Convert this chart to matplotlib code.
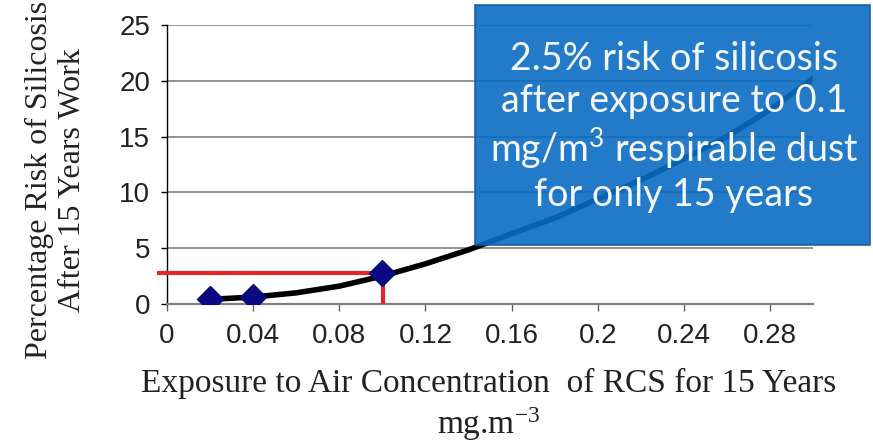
import matplotlib
matplotlib.use("Agg")
import matplotlib.pyplot as plt
from matplotlib.patches import Rectangle

# Data points (diamonds)
point_x = [0.02, 0.04, 0.10]
point_y = [0.45, 0.65, 2.75]

# Trend curve
curve_x = [0.02, 0.04, 0.06, 0.08, 0.10, 0.12, 0.14, 0.16, 0.18, 0.20, 0.22, 0.24, 0.26, 0.28, 0.30]
curve_y = [0.42, 0.62, 1.0, 1.6, 2.5, 3.6, 4.85, 6.3, 7.7, 9.4, 11.1, 13.0, 15.0, 17.4, 20.2]

# Reference marker (0.1 mg/m3 -> ~2.5 %)
ref_x = 0.10
ref_y = 2.75

x_ticks = [0, 0.04, 0.08, 0.12, 0.16, 0.2, 0.24, 0.28]
x_tick_labels = ["0", "0.04", "0.08", "0.12", "0.16", "0.2", "0.24", "0.28"]
y_ticks = [0, 5, 10, 15, 20, 25]

W, H = 873, 446
fig = plt.figure(figsize=(W / 100, H / 100), dpi=100)
ax = fig.add_axes([167 / W, (H - 304) / H, (813 - 167) / W, (304 - 25) / H])

ax.set_xlim(0, 0.30)
ax.set_ylim(0, 25)

for s in ["top", "right"]:
    ax.spines[s].set_visible(False)
ax.spines["left"].set_color("black")
ax.spines["left"].set_linewidth(1.0)
ax.spines["bottom"].set_color("#808080")
ax.spines["bottom"].set_linewidth(1.6)

ax.set_yticks(y_ticks)
ax.set_xticks(x_ticks)
ax.set_xticklabels(x_tick_labels)
ax.yaxis.grid(True, color="#7f7f7f", linewidth=1.2)
ax.set_axisbelow(True)
ax.tick_params(axis="y", direction="out", length=4, width=1, color="black", pad=8,
               labelsize=20, labelcolor="#222222")
ax.tick_params(axis="x", direction="out", length=5, width=1, color="#606060", pad=9,
               labelsize=20, labelcolor="#222222")
for lab in ax.get_xticklabels() + ax.get_yticklabels():
    lab.set_fontfamily("Liberation Sans")

# red reference lines
ax.plot([-0.0045, ref_x], [ref_y, ref_y], color="#e02626", lw=3, clip_on=False, zorder=3,
        solid_capstyle="butt")
ax.plot([ref_x + 0.0005, ref_x + 0.0005], [0, ref_y], color="#e02626", lw=3, zorder=3,
        solid_capstyle="butt")

# curve and points
ax.plot(curve_x, curve_y, color="black", lw=4, zorder=4, solid_capstyle="round")
ax.plot(point_x, point_y, linestyle="none", marker="D", markersize=13,
        color="#0a0a80", zorder=5)

# axis titles
fig.text(489 / W, (H - 383) / H, "Exposure to Air Concentration  of RCS for 15 Years",
         ha="center", va="center", family="Liberation Serif", fontsize=24, color="#222222")
fig.text(489 / W, (H - 424) / H, r"mg.m$\mathregular{^{-3}}$",
         ha="center", va="center", family="Liberation Serif", fontsize=24, color="#222222")
fig.text(56 / W, (H - 180) / H, "Percentage Risk of Silicosis\nAfter 15 Years Work",
         ha="center", va="center", rotation=90, family="Liberation Serif", fontsize=23,
         color="#222222", linespacing=1.15)

# blue callout box
fig.patches.append(Rectangle((475 / W, (H - 245) / H), (870 - 475) / W, (245 - 5) / H,
                             transform=fig.transFigure, facecolor="#0a6cc2",
                             edgecolor="#0d5a9c", linewidth=1.2, alpha=0.9, zorder=10))
fig.text(674 / W, (H - 127) / H,
         "2.5% risk of silicosis\nafter exposure to 0.1\n"
         r"mg/m$\mathregular{^3}$ respirable dust" "\nfor only 15 years",
         ha="center", va="center", color="#f4f7fb", fontsize=27, family="Lato",
         linespacing=1.2, zorder=11)

fig.savefig("out.png", dpi=100)
